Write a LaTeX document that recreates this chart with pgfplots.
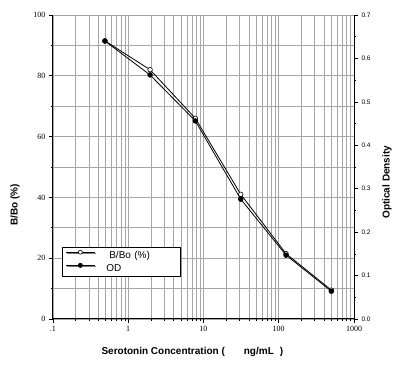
\documentclass[border=0pt]{standalone}
\usepackage{fontspec}
\setmainfont{Liberation Sans}
\newfontfamily\serfont{Liberation Serif}
\usepackage{pgfplots}
\pgfplotsset{compat=1.18}
\usetikzlibrary{shadows}
\begin{document}
\begin{tikzpicture}[x=1pt,y=1pt]
\useasboundingbox (-53,-48) rectangle (347,319);
\begin{axis}[
  at={(0,0)}, anchor=south west,
  scale only axis, width=301pt, height=304pt,
  xmode=log, xmin=0.1, xmax=1000,
  ymin=0, ymax=100,
  xtick={0.1,1,10,100,1000},
  xticklabels={.1,1,10,100,1000},
  ytick={0,20,40,60,80,100},
  minor ytick={10,30,50,70,90},
  xmajorgrids, xminorgrids, ymajorgrids, yminorgrids,
  grid style={gray!70, line width=0.6pt},
  minor grid style={gray!70, line width=0.6pt},
  axis line style={line width=1pt},
  axis y line*=left, axis x line*=bottom,
  tick align=outside,
  major tick length=4pt, minor tick length=2pt,
  tick style={black, line width=0.6pt},
  x tick label style={font=\serfont\fontsize{8}{9}\selectfont},
  y tick label style={font=\serfont\fontsize{8}{9}\selectfont},
  /pgf/number format/assume math mode=true,
  ylabel={\bfseries B/Bo (\%)},
  ylabel style={font=\fontsize{10}{11}\selectfont, at={(axis description cs:-0.126,0.375)}, anchor=center},
  xlabel={\bfseries Serotonin Concentration (\hspace{1.9em}ng/mL\hspace{0.6em})},
  xlabel style={font=\fontsize{10}{11}\selectfont, at={(axis description cs:0.463,-0.109)}, anchor=center},
  legend style={at={(rel axis cs:0.030,0.237)}, anchor=north west, draw=black, line width=0.8pt,
     font=\fontsize{10}{11}\selectfont, inner xsep=3pt, inner ysep=1.5pt, row sep=0.5pt,
     drop shadow={shadow xshift=1.2pt, shadow yshift=-1.2pt, fill=gray}, fill=white,
     legend cell align=left, text width=78pt},
  legend image code/.code={\draw[mark repeat=2,mark phase=2,#1] plot coordinates {(0pt,3pt) (14.5pt,3pt) (29pt,3pt)};},
  legend image post style={line width=0.9pt, mark size=2pt},
  clip=false
]
\addplot[black, line width=0.8pt, mark=*, mark options={fill=white, line width=0.6pt}, mark size=2.3pt]
  coordinates {(0.49,91.5) (1.95,82) (7.8,66) (31.25,41) (125,21.5) (500,9.5)};
\addlegendentry{\hspace{1.2em}B/Bo (\%)}
\addlegendimage{black, line width=0.8pt, mark=*, mark options={fill=black}, mark size=2.3pt}
\addlegendentry{\hspace{0.9em}OD}
\end{axis}
\begin{axis}[
  at={(0,0)}, anchor=south west,
  scale only axis, width=301pt, height=304pt,
  xmode=log, xmin=0.1, xmax=1000,
  ymin=0, ymax=0.7,
  axis x line=none,
  axis y line*=right,
  ytick={0,0.1,0.2,0.3,0.4,0.5,0.6,0.7},
  minor ytick={0.05,0.15,0.25,0.35,0.45,0.55,0.65},
  yticklabel style={/pgf/number format/fixed, /pgf/number format/fixed zerofill, /pgf/number format/precision=1, font=\fontsize{6.5}{7.5}\selectfont},
  /pgf/number format/assume math mode=true,
  axis line style={line width=1pt},
  tick align=outside,
  major tick length=4pt, minor tick length=2pt,
  tick style={black, line width=0.6pt},
  ylabel={\bfseries Optical Density},
  ylabel style={font=\fontsize{10}{11}\selectfont, at={(axis description cs:1.110,0.45)}, anchor=center},
  clip=false
]
\addplot[black, line width=0.8pt, mark=*, mark options={fill=black}, mark size=2.3pt]
  coordinates {(0.49,0.640) (1.95,0.562) (7.8,0.456) (31.25,0.276) (125,0.147) (500,0.064)};
\end{axis}
\end{tikzpicture}
\end{document}
